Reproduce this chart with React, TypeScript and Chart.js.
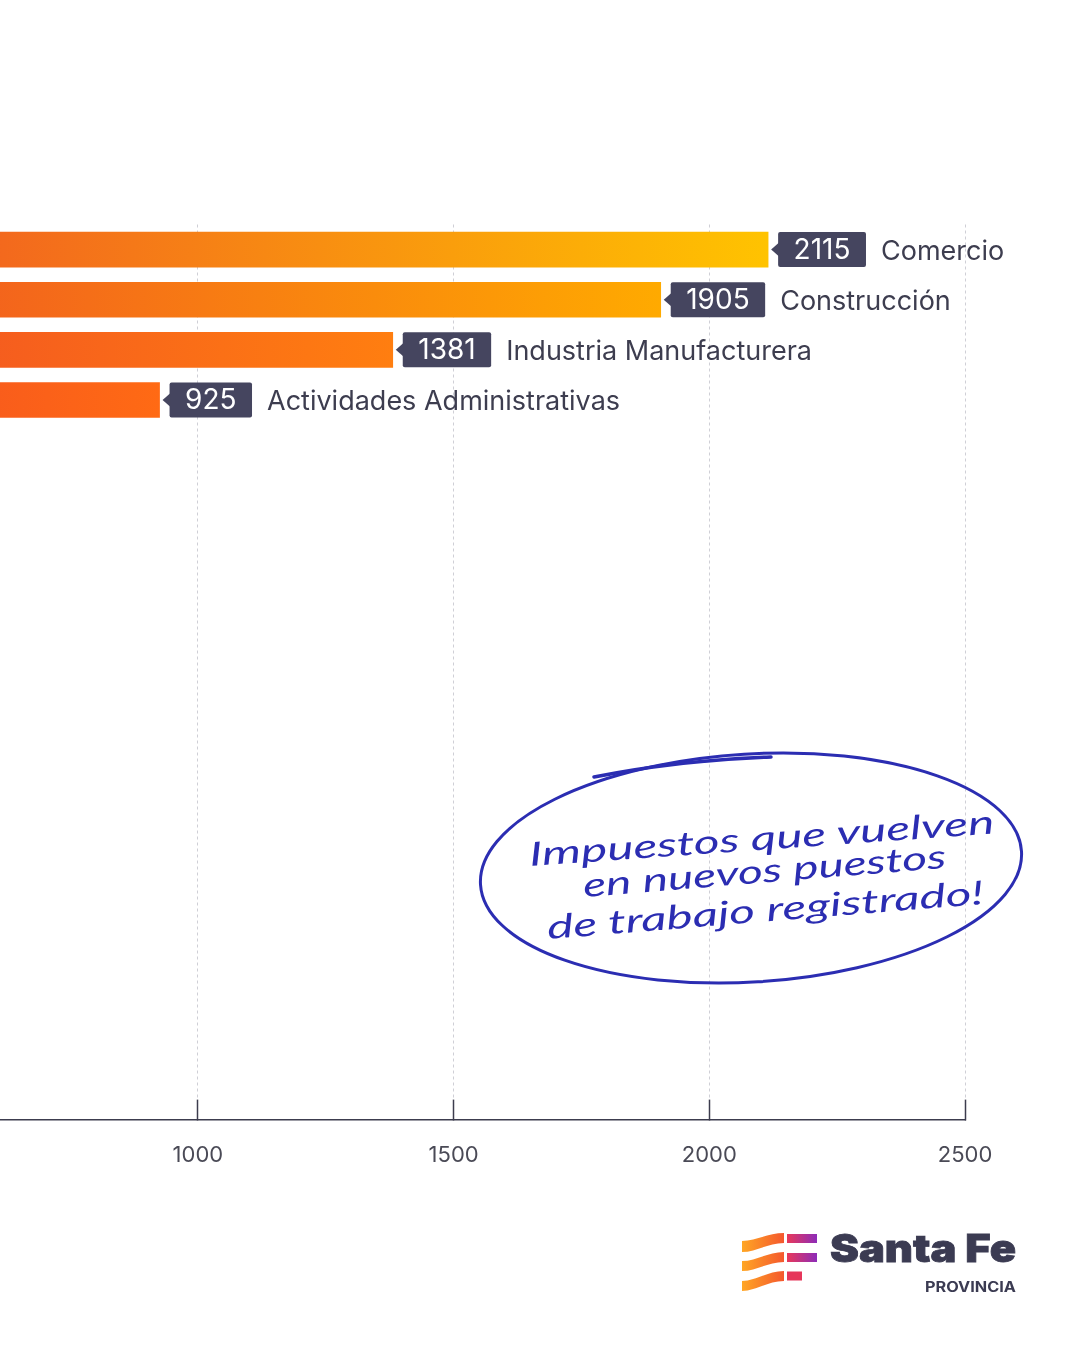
import React, { useEffect, useRef } from 'react';
import { Chart, registerables } from 'chart.js';

Chart.register(...registerables);

// ---------- data ----------
const CATEGORIES = ['Comercio', 'Construcción', 'Industria Manufacturera', 'Actividades Administrativas'];
const VALUES = [2115, 1905, 1381, 925];
const ROWS = [0, 1, 2, 3];
const X_TICKS = [1000, 1500, 2000, 2500];
const X_MIN = 613;
const X_MAX = 2500;
const Y_MIN = -0.5;
const Y_MAX = 17.35;

const NOTE_LINES = ['Impuestos que vuelven', 'en nuevos puestos', 'de trabajo registrado!'];

// ---------- style ----------
const FONT = 'Inter, "Noto Sans", sans-serif';
const BOX_COLOR = '#45455f';
const NAME_COLOR = '#3d3d4f';
const AXIS_COLOR = '#3c3c4e';
const GRID_COLOR = '#cfcfd6';
const NOTE_BLUE = '#2b2db2';
const BAR_START = '#ee4429';
const END_RAMP: [number, number[]][] = [
  [0, [238, 68, 41]],
  [900, [255, 105, 20]],
  [1400, [255, 127, 16]],
  [1900, [255, 169, 0]],
  [2100, [255, 194, 0]],
  [2500, [255, 212, 0]],
];

function rampColor(v: number): string {
  for (let i = 1; i < END_RAMP.length; i++) {
    const [v1, c1] = END_RAMP[i];
    const [v0, c0] = END_RAMP[i - 1];
    if (v <= v1) {
      const t = (v - v0) / (v1 - v0);
      const c = c0.map((a, k) => Math.round(a + (c1[k] - a) * t));
      return `rgb(${c[0]},${c[1]},${c[2]})`;
    }
  }
  const c = END_RAMP[END_RAMP.length - 1][1];
  return `rgb(${c[0]},${c[1]},${c[2]})`;
}

const labelPlugin = {
  id: 'barLabels',
  afterDatasetsDraw(chart: any) {
    const meta = chart.getDatasetMeta(0);
    const c = chart.ctx;
    meta.data.forEach((bar: any, i: number) => {
      const { x, y, height } = bar.getProps(['x', 'y', 'height'], true);
      const h = height;
      c.save();
      c.font = `400 28px ${FONT}`;
      const txt = String(VALUES[i]);
      const tw = c.measureText(txt).width;
      const bx = x + 10;
      const bw = tw + 31;
      const by = y - h / 2;
      c.fillStyle = BOX_COLOR;
      c.beginPath();
      if ((c as any).roundRect) (c as any).roundRect(bx, by, bw, h, 2);
      else c.rect(bx, by, bw, h);
      c.fill();
      c.beginPath();
      c.moveTo(bx + 1, y - 7);
      c.lineTo(x + 3, y);
      c.lineTo(bx + 1, y + 7);
      c.closePath();
      c.fill();
      c.fillStyle = '#ffffff';
      c.textAlign = 'center';
      c.textBaseline = 'middle';
      c.fillText(txt, bx + bw / 2, y + 1);
      c.font = `400 27px ${FONT}`;
      c.fillStyle = NAME_COLOR;
      c.textAlign = 'left';
      c.fillText(CATEGORIES[i], bx + bw + 15, y + 2);
      c.restore();
    });
  },
};

export default function App() {
  const ref = useRef<HTMLCanvasElement>(null);

  useEffect(() => {
    if (!ref.current) return;
    Chart.defaults.font.family = FONT;
    const chart = new Chart(ref.current, {
      type: 'bar',
      data: {
        datasets: [
          {
            data: VALUES.map((v, i) => ({ x: v, y: ROWS[i] })),
            barThickness: 35,
            borderWidth: 0,
            backgroundColor: (ctx: any) => {
              const ch = ctx.chart;
              const xs = ch.scales && ch.scales.x;
              if (!ch.chartArea || !xs || ctx.type !== 'data') return '#ff7a10';
              const v = ctx.raw.x;
              const x0 = xs.getPixelForValue(0);
              const x1 = xs.getPixelForValue(v);
              const g = ch.ctx.createLinearGradient(x0, 0, x1, 0);
              g.addColorStop(0, BAR_START);
              g.addColorStop(1, rampColor(v));
              return g;
            },
          } as any,
        ],
      },
      options: {
        indexAxis: 'y',
        responsive: false,
        animation: false,
        events: [],
        layout: { padding: { top: 224.5, right: 116, bottom: 139, left: 0 } },
        plugins: { legend: { display: false }, tooltip: { enabled: false } },
        scales: {
          x: {
            type: 'linear',
            position: 'bottom',
            min: X_MIN,
            max: X_MAX,
            afterBuildTicks: (s: any) => {
              s.ticks = X_TICKS.map((v) => ({ value: v }));
            },
            grid: {
              color: GRID_COLOR,
              lineWidth: 1,
              drawTicks: true,
              tickLength: -20,
              tickColor: AXIS_COLOR,
              tickWidth: 1.5,
              tickBorderDash: [],
            },
            border: { display: true, color: AXIS_COLOR, width: 1.5, dash: [3, 3] },
            ticks: {
              font: { family: FONT, size: 22 },
              color: '#4a4a56',
              padding: 43,
              maxRotation: 0,
              callback: (v: any) => String(v),
            },
          },
          y: {
            type: 'linear',
            reverse: true,
            offset: false,
            min: Y_MIN,
            max: Y_MAX,
            display: false,
          },
        },
      },
      plugins: [labelPlugin],
    } as any);
    return () => chart.destroy();
  }, []);

  return (
    <div style={{ position: 'absolute', left: 0, top: 0, width: 1081, height: 1351, background: '#ffffff', overflow: 'hidden' }}>
      <canvas ref={ref} width={1081} height={1351} style={{ position: 'absolute', left: 0, top: 0, display: 'block' }} />
      <svg width={1081} height={1351} style={{ position: 'absolute', left: 0, top: 0, pointerEvents: 'none' }}>
        <defs>
          <linearGradient id="wave" x1="0" x2="1" y1="0" y2="0">
            <stop offset="0" stopColor="#ffa624" />
            <stop offset="1" stopColor="#f4582e" />
          </linearGradient>
          <linearGradient id="fbar" x1="0" x2="1" y1="0" y2="0">
            <stop offset="0" stopColor="#e8385a" />
            <stop offset="1" stopColor="#8d2cb8" />
          </linearGradient>
        </defs>
        {/* handwritten note */}
        <ellipse cx={751} cy={868} rx={271} ry={114} transform="rotate(-3.5 751 868)" fill="none" stroke={NOTE_BLUE} strokeWidth={3} />
        <path d="M594 777 Q680 760 771 757" fill="none" stroke={NOTE_BLUE} strokeWidth={3.5} strokeLinecap="round" />
        <g fill={NOTE_BLUE} fontFamily="Lato, 'Open Sans', sans-serif" fontStyle="italic" fontWeight={400} fontSize={33}>
          <text x={530} y={866} transform="rotate(-4 530 866)" textLength={466} lengthAdjust="spacingAndGlyphs">{NOTE_LINES[0]}</text>
          <text x={584} y={897} transform="rotate(-4.6 584 897)" textLength={364} lengthAdjust="spacingAndGlyphs">{NOTE_LINES[1]}</text>
          <text x={548} y={939} transform="rotate(-4.6 548 939)" textLength={438} lengthAdjust="spacingAndGlyphs">{NOTE_LINES[2]}</text>
        </g>
        {/* logo */}
        <path d="M742 1241 C756 1241 768 1233 784 1233 L784 1243 C768 1243 756 1252 742 1252 Z" fill="url(#wave)" />
        <path d="M742 1261 C756 1261 768 1252 784 1252 L784 1262 C768 1262 756 1271 742 1271 Z" fill="url(#wave)" />
        <path d="M742 1281 C756 1281 768 1271 784 1271 L784 1281 C768 1281 756 1291 742 1291 Z" fill="url(#wave)" />
        <rect x={787} y={1234} width={30} height={9} fill="url(#fbar)" />
        <rect x={787} y={1253} width={30} height={9} fill="url(#fbar)" />
        <rect x={787} y={1271.5} width={15} height={9} fill="#e6365a" />
        <text x={830} y={1262} fontFamily="Inter, sans-serif" fontWeight={900} fontSize={38} fill="#3b3b52" stroke="#3b3b52" strokeWidth={0.8} textLength={186} lengthAdjust="spacingAndGlyphs">Santa Fe</text>
        <text x={925} y={1292} fontFamily="Inter, sans-serif" fontWeight={700} fontSize={14} fill="#3b3b52" textLength={91} lengthAdjust="spacingAndGlyphs">PROVINCIA</text>
      </svg>
    </div>
  );
}
